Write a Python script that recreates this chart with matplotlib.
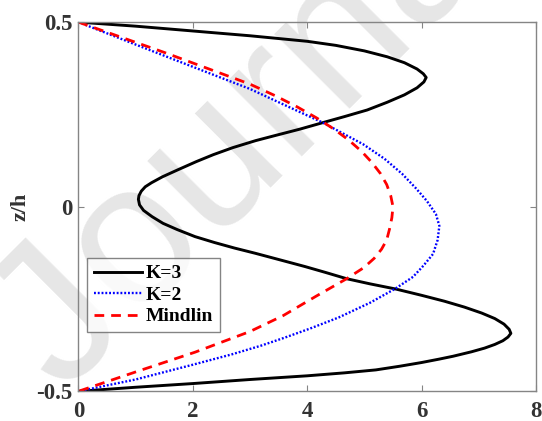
import matplotlib

matplotlib.use("Agg")
import matplotlib.pyplot as plt

# --- data (z/h levels and the profile value) ---------------------------------
K3_Z = [0.5, 0.489, 0.476, 0.463, 0.448, 0.437, 0.422, 0.406, 0.39, 0.373,
        0.36, 0.35, 0.338, 0.322, 0.303, 0.283, 0.262, 0.244, 0.228, 0.21,
        0.194, 0.179, 0.16, 0.141, 0.122, 0.1, 0.081, 0.065, 0.054, 0.042,
        0.03, 0.02, 0.005, -0.01, -0.027, -0.045, -0.062, -0.081, -0.097,
        -0.112, -0.126, -0.145, -0.162, -0.178, -0.195, -0.209, -0.223,
        -0.24, -0.256, -0.272, -0.288, -0.303, -0.318, -0.332, -0.343,
        -0.353, -0.363, -0.373, -0.383, -0.393, -0.405, -0.413, -0.422,
        -0.432, -0.442, -0.45, -0.458, -0.468, -0.479, -0.489, -0.5]
K3_X = [0.0, 1.0, 2.0, 3.0, 4.0, 4.5, 5.0, 5.4, 5.7, 5.92,
        6.03, 6.08, 6.04, 5.92, 5.7, 5.4, 5.05, 4.65, 4.28, 3.87,
        3.47, 3.1, 2.7, 2.36, 2.06, 1.74, 1.47, 1.28, 1.17, 1.1,
        1.06, 1.05, 1.07, 1.14, 1.29, 1.48, 1.73, 2.04, 2.38,
        2.73, 3.09, 3.55, 3.96, 4.32, 4.69, 5.1, 5.55,
        6.0, 6.4, 6.75, 7.05, 7.28, 7.44, 7.53, 7.56,
        7.51, 7.42, 7.28, 7.1, 6.87, 6.55, 6.3, 6.0,
        5.62, 5.2, 4.65, 4.0, 3.0, 2.0, 1.0, 0.0]

K2_Z = [0.5, 0.409, 0.319, 0.273, 0.228, 0.169, 0.13, 0.089, 0.05, 0.016,
        -0.02, -0.052, -0.09, -0.128, -0.16, -0.19, -0.222, -0.26, -0.3,
        -0.33, -0.355, -0.376, -0.4, -0.428, -0.468, -0.5]
K2_X = [0.0, 1.5, 3.0, 3.64, 4.27, 4.98, 5.35, 5.66, 5.9, 6.09,
        6.25, 6.31, 6.28, 6.2, 6.03, 5.85, 5.54, 5.1, 4.55,
        4.05, 3.6, 3.2, 2.68, 2.0, 1.0, 0.0]

MINDLIN_Z = [0.5, 0.418, 0.332, 0.3, 0.27, 0.24, 0.21, 0.18, 0.15, 0.12,
             0.09, 0.06, 0.03, 0.0, -0.03, -0.06, -0.09, -0.115, -0.14,
             -0.165, -0.195, -0.242, -0.295, -0.338, -0.394, -0.445, -0.5]
MINDLIN_X = [0.0, 1.5, 3.0, 3.45, 3.83, 4.17, 4.47, 4.73, 4.95, 5.13,
             5.28, 5.39, 5.46, 5.5, 5.48, 5.44, 5.39, 5.3, 5.17,
             4.99, 4.69, 4.16, 3.58, 3.0, 2.04, 1.05, 0.0]

X_TICKS = [0, 2, 4, 6, 8]
Z_TICKS = [-0.5, 0, 0.5]
Z_TICK_LABELS = ["-0.5", "0", "0.5"]

SERIF = ["Liberation Serif", "DejaVu Serif"]
AXIS_GRAY = "#858585"
LABEL_INK = "#333333"

fig = plt.figure(figsize=(5.42, 4.21), dpi=100)
ax = fig.add_axes([0.1445, 0.0705, 0.8445, 0.877])

# faint "Journal Pre-proof" watermark, drawn before the axes
fig.text(0.116, 0.061, "Journal Pre-proof", fontsize=145, color="#e6e6e6",
         rotation=45, rotation_mode="anchor", ha="left", va="baseline",
         family=["Liberation Sans", "DejaVu Sans"], zorder=-1)
ax.set_facecolor("none")

ax.plot(K3_X, K3_Z, color="black", lw=2.1, label="K=3",
        solid_joinstyle="round")
ax.plot(K2_X, K2_Z, color="#0000ff", lw=1.7, linestyle=(0, (0.8, 0.8)),
        label="K=2")
ax.plot(MINDLIN_X, MINDLIN_Z, color="#ff0000", lw=2.0,
        linestyle=(0, (3.5, 2.5)), label="Mindlin")

ax.set_xlim(0, 8)
ax.set_ylim(-0.5, 0.5)
ax.set_xticks(X_TICKS)
ax.set_yticks(Z_TICKS)
ax.set_yticklabels(Z_TICK_LABELS)
ax.tick_params(direction="in", length=4, width=0.8, color=AXIS_GRAY,
               top=True, right=True, labelsize=16.5, labelcolor=LABEL_INK)
ax.tick_params(axis="x", pad=7)
ax.tick_params(axis="y", pad=4)
for lab in ax.get_xticklabels() + ax.get_yticklabels():
    lab.set_family(SERIF)
    lab.set_fontweight("bold")
for sp in ax.spines.values():
    sp.set_color(AXIS_GRAY)
    sp.set_linewidth(1.0)

ax.set_ylabel("z/h", fontsize=16, fontweight="bold", family=SERIF,
              color=LABEL_INK, labelpad=4)

leg = ax.legend(loc="upper left", bbox_to_anchor=(0.019, 0.361),
                prop={"family": SERIF, "weight": "bold", "size": 14},
                frameon=True, fancybox=False, handlelength=2.5,
                handletextpad=0.15, borderpad=0.35, labelspacing=0.2,
                borderaxespad=0)
leg.get_frame().set_edgecolor("#666666")
leg.get_frame().set_linewidth(1.0)

fig.savefig("out.png", dpi=100, facecolor="white")
